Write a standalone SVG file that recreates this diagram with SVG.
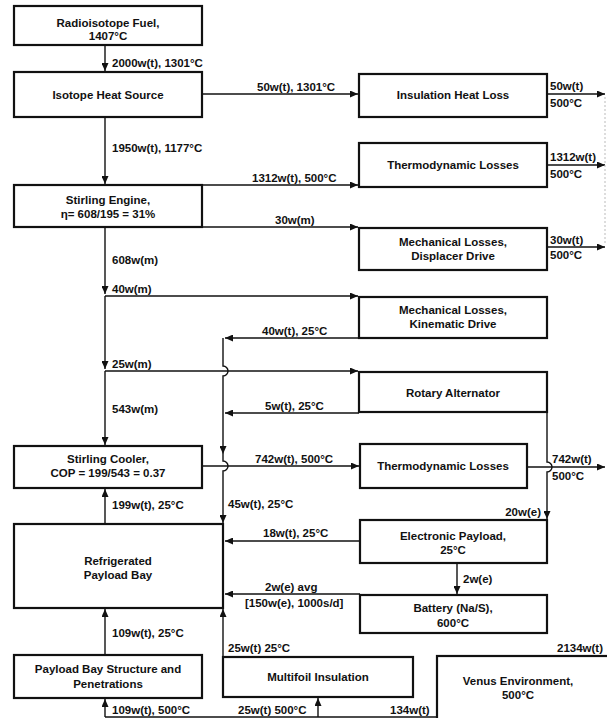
<svg xmlns="http://www.w3.org/2000/svg" width="607" height="718" viewBox="0 0 607 718">
<defs>
<marker id="ah" markerWidth="8" markerHeight="7" refX="8" refY="3.5" orient="auto" markerUnits="userSpaceOnUse">
<path d="M0,0 L8,3.5 L0,7 z" fill="#111"/>
</marker>
<style>
.box{fill:#fff;stroke:#111;stroke-width:2.2}
.ln{fill:none;stroke:#111;stroke-width:1.4}
.ar{fill:none;stroke:#111;stroke-width:1.4;marker-end:url(#ah)}
.t{font-family:"Liberation Sans",Arial,sans-serif;font-weight:bold;font-size:11.5px;fill:#111}
.c{text-anchor:middle}
.e{text-anchor:end}
</style>
</defs>
<rect width="607" height="718" fill="#fff"/>
<g id="connectors">
<path class="ar" d="M105,45 V71"/>
<path class="ar" d="M105,117 V184"/>
<path class="ar" d="M202,94 H358"/>
<path class="ar" d="M547,94 H605"/>
<path class="ar" d="M202,185 H358"/>
<path class="ar" d="M547,165 H605"/>
<path class="ar" d="M202,227 H358"/>
<path class="ar" d="M547,247 H605"/>
<path class="ar" d="M105,227 V294"/>
<path class="ar" d="M105,296 H358"/>
<path class="ar" d="M105,296 V369"/>
<path class="ar" d="M105,371 H358"/>
<path class="ar" d="M105,371 V445"/>
<path class="ar" d="M359,338 H225"/>
<path class="ar" d="M223,338 V366 a5,5 0 0 1 0,10 V454"/>
<path class="ar" d="M223,454 V461 a5,5 0 0 1 0,10 V523"/>
<path class="ar" d="M359,413 H225"/>
<path class="ar" d="M202,466 H359"/>
<path class="ar" d="M527,467 H605"/>
<path class="ar" d="M547,412 V462 a5,5 0 0 1 0,10 V519"/>
<path class="ar" d="M360,541 H225"/>
<path class="ar" d="M457,563 V594"/>
<path class="ar" d="M360,594 H225"/>
<path class="ar" d="M105,524 V489"/>
<path class="ar" d="M105,655 V609"/>
<path class="ar" d="M223,657 V609"/>
<path class="ar" d="M105,717 V699"/>
<path class="ar" d="M318,717 V698"/>
<path class="ln" d="M105,717 H437"/>
<path d="M605,97 V245" fill="none" stroke="#bbb" stroke-width="1" stroke-dasharray="2,2"/>
</g>
<g id="radioisotope-fuel"><rect class="box" x="14" y="6" width="188" height="39"/><text class="t c" x="108" y="27">Radioisotope Fuel,</text><text class="t c" x="108" y="40">1407°C</text></g>
<g id="isotope-heat-source"><rect class="box" x="14" y="72" width="188" height="45"/><text class="t c" x="108" y="99">Isotope Heat Source</text></g>
<g id="insulation-heat-loss"><rect class="box" x="359" y="74" width="188" height="43"/><text class="t c" x="453" y="99">Insulation Heat Loss</text></g>
<g id="thermo-losses-1"><rect class="box" x="359" y="143" width="188" height="44"/><text class="t c" x="453" y="169">Thermodynamic Losses</text></g>
<g id="stirling-engine"><rect class="box" x="14" y="185" width="188" height="42"/><text class="t c" x="108" y="204">Stirling Engine,</text><text class="t c" x="108" y="218">η= 608/195 = 31%</text></g>
<g id="mech-displacer"><rect class="box" x="359" y="228" width="188" height="42"/><text class="t c" x="453" y="246">Mechanical Losses,</text><text class="t c" x="453" y="260">Displacer Drive</text></g>
<g id="mech-kinematic"><rect class="box" x="359" y="297" width="188" height="41"/><text class="t c" x="453" y="314">Mechanical Losses,</text><text class="t c" x="453" y="328">Kinematic Drive</text></g>
<g id="rotary-alternator"><rect class="box" x="359" y="372" width="188" height="40"/><text class="t c" x="453" y="397">Rotary Alternator</text></g>
<g id="stirling-cooler"><rect class="box" x="14" y="446" width="188" height="42"/><text class="t c" x="108" y="463">Stirling Cooler,</text><text class="t c" x="108" y="477">COP = 199/543 = 0.37</text></g>
<g id="thermo-losses-2"><rect class="box" x="360" y="444" width="167" height="44"/><text class="t c" x="443" y="470">Thermodynamic Losses</text></g>
<g id="refrigerated-bay"><rect class="box" x="14" y="524" width="209" height="84"/><text class="t c" x="118" y="565">Refrigerated</text><text class="t c" x="118" y="579">Payload Bay</text></g>
<g id="electronic-payload"><rect class="box" x="360" y="520" width="187" height="43"/><text class="t c" x="453" y="540">Electronic Payload,</text><text class="t c" x="453" y="554">25°C</text></g>
<g id="battery"><rect class="box" x="360" y="595" width="187" height="38"/><text class="t c" x="453" y="612">Battery (Na/S),</text><text class="t c" x="453" y="627">600°C</text></g>
<g id="payload-structure"><rect class="box" x="14" y="655" width="188" height="43"/><text class="t c" x="108" y="673">Payload Bay Structure and</text><text class="t c" x="108" y="688">Penetrations</text></g>
<g id="multifoil"><rect class="box" x="223" y="657" width="190" height="40"/><text class="t c" x="318" y="681">Multifoil Insulation</text></g>
<g id="venus"><rect class="box" x="437" y="656" width="180" height="80"/><text class="t c" x="518" y="685">Venus Environment,</text><text class="t c" x="518" y="699">500°C</text></g>
<g id="labels">
<text class="t" x="112" y="67">2000w(t), 1301°C</text>
<text class="t" x="257" y="91">50w(t), 1301°C</text>
<text class="t" x="550" y="90">50w(t)</text>
<text class="t" x="550" y="107">500°C</text>
<text class="t" x="112" y="152">1950w(t), 1177°C</text>
<text class="t" x="252" y="182">1312w(t), 500°C</text>
<text class="t" x="550" y="161">1312w(t)</text>
<text class="t" x="550" y="178">500°C</text>
<text class="t" x="275" y="224">30w(m)</text>
<text class="t" x="550" y="244">30w(t)</text>
<text class="t" x="550" y="259">500°C</text>
<text class="t" x="112" y="264">608w(m)</text>
<text class="t" x="112" y="293">40w(m)</text>
<text class="t" x="262" y="335">40w(t), 25°C</text>
<text class="t" x="112" y="368">25w(m)</text>
<text class="t" x="265" y="410">5w(t), 25°C</text>
<text class="t" x="112" y="413">543w(m)</text>
<text class="t" x="255" y="463">742w(t), 500°C</text>
<text class="t" x="552" y="463">742w(t)</text>
<text class="t" x="552" y="480">500°C</text>
<text class="t" x="112" y="509">199w(t), 25°C</text>
<text class="t" x="228" y="508">45w(t), 25°C</text>
<text class="t e" x="541" y="516">20w(e)</text>
<text class="t" x="263" y="537">18w(t), 25°C</text>
<text class="t" x="463" y="583">2w(e)</text>
<text class="t" x="265" y="591">2w(e)  avg</text>
<text class="t" x="245" y="607">[150w(e), 1000s/d]</text>
<text class="t" x="112" y="637">109w(t), 25°C</text>
<text class="t" x="228" y="652">25w(t)  25°C</text>
<text class="t" x="557" y="652">2134w(t)</text>
<text class="t" x="112" y="714">109w(t), 500°C</text>
<text class="t" x="238" y="714">25w(t)  500°C</text>
<text class="t" x="390" y="714">134w(t)</text>
</g>
</svg>
